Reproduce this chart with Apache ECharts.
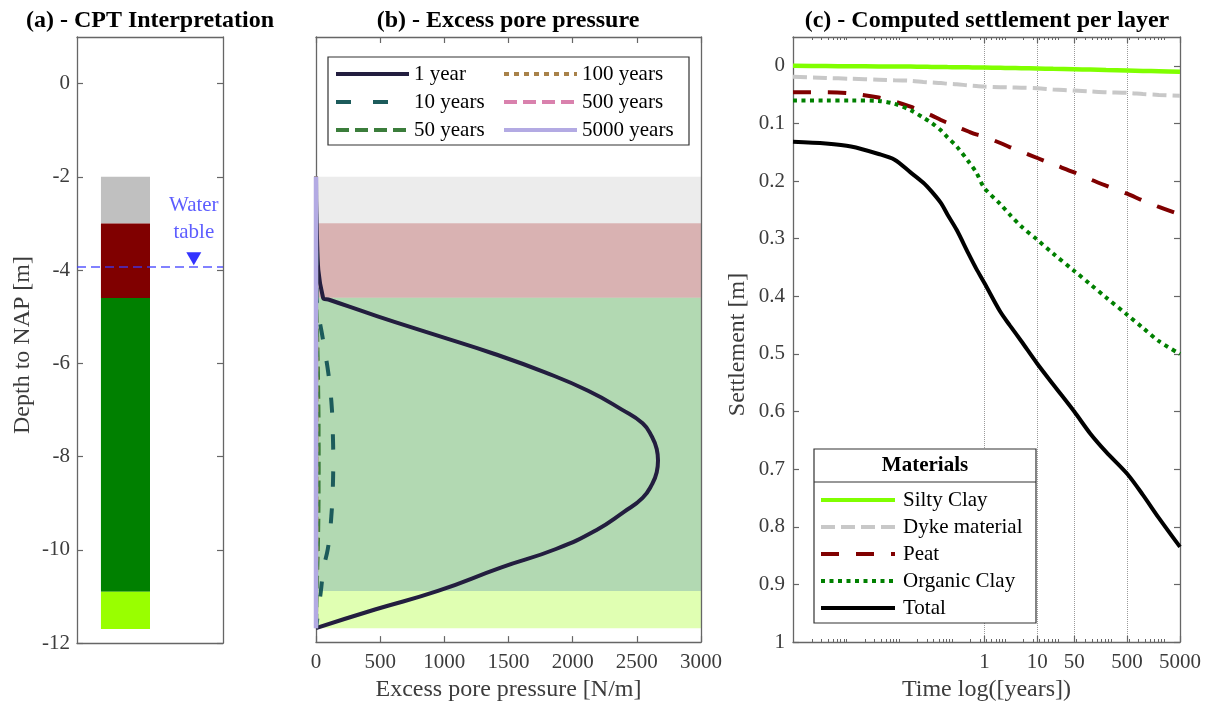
<!DOCTYPE html>
<html>
<head>
<meta charset="utf-8">
<script src="https://cdn.jsdelivr.net/npm/echarts@6/dist/echarts.min.js"></script>
<style>
  html, body { margin: 0; padding: 0; background: #fff; }
  #main { width: 1213px; height: 707px; }
</style>
</head>
<body>
<div id="main"></div>
<script>
// (a) CPT interpretation - soil layers (depth to NAP, m)
const layerNames = ['Dyke material', 'Peat', 'Organic Clay', 'Silty Clay'];
const layerTop = [-2, -3, -4.6, -10.9];
const layerBottom = [-3, -4.6, -10.9, -11.7];
const layerColors = ['#c0c0c0', '#800000', '#008000', '#99ff00'];
const waterTable = -3.93;
const depthTicks = [-12, -10, -8, -6, -4, -2, 0];

// (b) excess pore pressure profiles [N/m] against depth
const pDepth = [-2, -3, -4.6, -4.65, -5.0, -5.4, -5.8, -6.2, -6.6, -7.0, -7.3, -7.6, -7.85, -8.1, -8.35, -8.6, -8.9, -9.2, -9.6, -10.0, -10.4, -10.9, -11.3, -11.7];
const u1 = [0, 5, 55, 108, 480, 930, 1380, 1780, 2120, 2380, 2545, 2620, 2655, 2665, 2655, 2620, 2545, 2400, 2180, 1870, 1440, 950, 460, 0];
const u10 = [0, 1, 5, 6, 22, 48, 72, 95, 112, 124, 129, 132, 134, 135, 134, 132, 128, 122, 110, 92, 60, 38, 20, 0];
const u50 = [0, 0, 1, 1, 5, 9, 12, 15, 17, 19, 20, 20, 21, 21, 21, 20, 20, 19, 17, 14, 10, 6, 3, 0];
const u100 = [0, 0, 0, 0, 1, 2, 3, 3, 4, 4, 4, 4, 4, 4, 4, 4, 4, 4, 3, 3, 2, 1, 1, 0];
const u500 = [0, 0, 0, 0, 0, 0, 0, 0, 0, 0, 0, 0, 0, 0, 0, 0, 0, 0, 0, 0, 0, 0, 0, 0];
const u5000 = [0, 0, 0, 0, 0, 0, 0, 0, 0, 0, 0, 0, 0, 0, 0, 0, 0, 0, 0, 0, 0, 0, 0, 0];
const pressureNames = ['1 year', '10 years', '50 years', '100 years', '500 years', '5000 years'];
const pressureTicks = [0, 500, 1000, 1500, 2000, 2500, 3000];

// (c) settlement per layer [m] against time [years]
const timeYears = [0.00024, 0.001, 0.003, 0.01, 0.02, 0.04, 0.07, 0.1, 0.15, 0.2, 0.3, 0.5, 0.7, 1, 2, 3, 5, 10, 20, 50, 100, 200, 500, 1000, 2000, 5000];
const siltyClay = [0.000, 0.0004, 0.0007, 0.0010, 0.0012, 0.0014, 0.0017, 0.0019, 0.0020, 0.0022, 0.0024, 0.0027, 0.0029, 0.0030, 0.0035, 0.0038, 0.0042, 0.0047, 0.0053, 0.0060, 0.0066, 0.0073, 0.0081, 0.0088, 0.0095, 0.0105];
const dykeMaterial = [0.019, 0.021, 0.0225, 0.024, 0.025, 0.026, 0.028, 0.029, 0.030, 0.031, 0.032, 0.034, 0.035, 0.036, 0.037, 0.0375, 0.038, 0.039, 0.041, 0.043, 0.0445, 0.046, 0.047, 0.049, 0.0505, 0.052];
const peat = [0.046, 0.046, 0.048, 0.055, 0.062, 0.071, 0.080, 0.086, 0.094, 0.099, 0.106, 0.114, 0.119, 0.123, 0.134, 0.141, 0.149, 0.160, 0.171, 0.185, 0.197, 0.208, 0.222, 0.234, 0.245, 0.258];
const organicClay = [0.060, 0.060, 0.060, 0.061, 0.066, 0.077, 0.090, 0.099, 0.112, 0.124, 0.140, 0.166, 0.185, 0.212, 0.240, 0.258, 0.279, 0.302, 0.326, 0.356, 0.379, 0.402, 0.432, 0.455, 0.478, 0.500];
const total = [0.132, 0.135, 0.140, 0.153, 0.163, 0.185, 0.203, 0.218, 0.238, 0.258, 0.285, 0.326, 0.352, 0.377, 0.427, 0.450, 0.478, 0.517, 0.553, 0.600, 0.638, 0.670, 0.708, 0.745, 0.785, 0.835];
const timeTicks = [1, 10, 50, 500, 5000];
const settlementTicks = [0, 0.1, 0.2, 0.3, 0.4, 0.5, 0.6, 0.7, 0.8, 0.9, 1];

// time axis is laid out in days (minor ticks fall on day decades), labelled in years
const DAYS = 365;

const FONT = "'Liberation Serif', 'Times New Roman', serif";
const AXIS_GRAY = '#666666';
const LABEL_GRAY = '#3c3c3c';
const tickLabel = { fontFamily: FONT, fontSize: 21, color: LABEL_GRAY };
const nameStyle = { fontFamily: FONT, fontSize: 24, color: LABEL_GRAY };
// right padding nudges the rotated y names a few px down
const yNameStyle = { fontFamily: FONT, fontSize: 24, color: LABEL_GRAY, padding: [0, 10, 0, 0] };
const lineAxis = { show: true, onZero: false, lineStyle: { color: AXIS_GRAY, width: 1.3 } };
const noTick = { show: false };
const noLabel = { show: false };
const noSplit = { show: false };
const legendText = { fontFamily: FONT, fontSize: 21, lineHeight: 22, color: '#000' };

const chart = echarts.init(document.getElementById('main'));

const toPairs = (xs, ys) => xs.map((x, i) => [x, ys[i]]);
const timeDays = timeYears.map(t => t * DAYS);
const timeTickDays = timeTicks.map(t => t * DAYS);

function inTick(values) {
  const t = { show: true, inside: true, length: 6, lineStyle: { color: AXIS_GRAY, width: 1.2 } };
  if (values) t.customValues = values;
  return t;
}

function pressureSeries(name, values, color, type, width) {
  return {
    name: name, type: 'line', xAxisIndex: 2, yAxisIndex: 2,
    data: toPairs(values, pDepth), symbol: 'none', smooth: 0.5, clip: false, z: 10,
    lineStyle: { color: color, type: type, width: width }, itemStyle: { color: color }
  };
}

function settleSeries(name, values, color, type, width) {
  return {
    name: name, type: 'line', xAxisIndex: 4, yAxisIndex: 4,
    data: toPairs(timeDays, values), symbol: 'none', smooth: 0.3, z: 10,
    lineStyle: { color: color, type: type, width: width }, itemStyle: { color: color }
  };
}

const option = {
  animation: false,
  grid: [
    { left: 77, top: 37, width: 146, height: 606 },
    { left: 316, top: 37, width: 385, height: 606 },
    { left: 793, top: 37, width: 387, height: 605 }
  ],
  xAxis: [
    { gridIndex: 0, type: 'value', min: 0, max: 1, axisLine: lineAxis, axisTick: noTick, axisLabel: noLabel, splitLine: noSplit },
    { gridIndex: 0, type: 'value', position: 'top', min: 0, max: 1, axisLine: lineAxis, axisTick: noTick, axisLabel: noLabel, splitLine: noSplit },
    {
      gridIndex: 1, type: 'value', min: 0, max: 3000, z: 5,
      axisLine: lineAxis,
      axisTick: inTick(pressureTicks),
      axisLabel: Object.assign({ margin: 10, customValues: pressureTicks, formatter: v => String(v) }, tickLabel),
      splitLine: noSplit,
      name: 'Excess pore pressure [N/m]', nameLocation: 'middle', nameGap: 33, nameTextStyle: nameStyle
    },
    {
      gridIndex: 1, type: 'value', position: 'top', min: 0, max: 3000, z: 5,
      axisLine: lineAxis, axisTick: inTick(pressureTicks), axisLabel: noLabel, splitLine: noSplit
    },
    {
      gridIndex: 2, type: 'log', logBase: 10, min: timeYears[0] * DAYS, max: 5000 * DAYS, z: 5,
      axisLine: lineAxis,
      axisTick: inTick(timeTickDays),
      minorTick: { show: true, splitNumber: 9, length: 3, lineStyle: { color: AXIS_GRAY, width: 1 } },
      axisLabel: Object.assign({ margin: 10, customValues: timeTickDays, formatter: v => String(Math.round(v / DAYS)) }, tickLabel),
      splitLine: { show: true, lineStyle: { type: 'dotted', color: '#9a9a9a', width: 1 } },
      name: 'Time log([years])', nameLocation: 'middle', nameGap: 33, nameTextStyle: nameStyle
    },
    {
      gridIndex: 2, type: 'log', logBase: 10, position: 'top', min: timeYears[0] * DAYS, max: 5000 * DAYS, z: 5,
      axisLine: lineAxis,
      axisTick: inTick(timeTickDays),
      minorTick: { show: true, splitNumber: 9, length: 3, lineStyle: { color: AXIS_GRAY, width: 1 } },
      axisLabel: noLabel, splitLine: noSplit
    }
  ],
  yAxis: [
    {
      gridIndex: 0, type: 'value', min: -12, max: 1,
      axisLine: lineAxis, axisTick: inTick(depthTicks),
      axisLabel: Object.assign({ margin: 7, customValues: depthTicks }, tickLabel),
      splitLine: noSplit,
      name: 'Depth to NAP [m]', nameLocation: 'middle', nameGap: 42, nameTextStyle: yNameStyle
    },
    {
      gridIndex: 0, type: 'value', position: 'right', min: -12, max: 1,
      axisLine: lineAxis, axisTick: inTick(depthTicks), axisLabel: noLabel, splitLine: noSplit
    },
    { gridIndex: 1, type: 'value', min: -12, max: 1, z: 5, axisLine: lineAxis, axisTick: noTick, axisLabel: noLabel, splitLine: noSplit },
    { gridIndex: 1, type: 'value', position: 'right', min: -12, max: 1, z: 5, axisLine: lineAxis, axisTick: noTick, axisLabel: noLabel, splitLine: noSplit },
    {
      gridIndex: 2, type: 'value', inverse: true, min: -0.05, max: 1, z: 5,
      axisLine: lineAxis, axisTick: inTick(settlementTicks),
      axisLabel: Object.assign({ margin: 8, customValues: settlementTicks }, tickLabel),
      splitLine: noSplit,
      name: 'Settlement [m]', nameLocation: 'middle', nameGap: 43, nameTextStyle: yNameStyle
    },
    {
      gridIndex: 2, type: 'value', position: 'right', inverse: true, min: -0.05, max: 1, z: 5,
      axisLine: lineAxis, axisTick: inTick(settlementTicks), axisLabel: noLabel, splitLine: noSplit
    }
  ],
  legend: [
    {
      data: pressureNames.slice(0, 3), orient: 'vertical', left: 329, top: 58,
      itemWidth: 73, itemHeight: 14, itemGap: 6, z: 30,
      itemStyle: { opacity: 0 }, lineStyle: { width: 4 }, textStyle: legendText
    },
    {
      data: pressureNames.slice(3), orient: 'vertical', left: 497, top: 58,
      itemWidth: 73, itemHeight: 14, itemGap: 6, z: 30,
      itemStyle: { opacity: 0 }, lineStyle: { width: 4 }, textStyle: legendText
    },
    {
      data: ['Silty Clay', 'Dyke material', 'Peat', 'Organic Clay', 'Total'], orient: 'vertical', left: 814, top: 484,
      itemWidth: 74, itemHeight: 14, itemGap: 5, z: 30,
      itemStyle: { opacity: 0 }, lineStyle: { width: 4 },
      textStyle: Object.assign({ padding: [0, 0, 0, 3] }, legendText)
    }
  ],
  graphic: [
    { type: 'text', x: 150, y: 21, z: 30, style: { text: '(a) - CPT Interpretation', font: 'bold 24px ' + FONT, fill: '#000', align: 'center', verticalAlign: 'middle' } },
    { type: 'text', x: 508, y: 21, z: 30, style: { text: '(b) - Excess pore pressure', font: 'bold 24px ' + FONT, fill: '#000', align: 'center', verticalAlign: 'middle' } },
    { type: 'text', x: 987, y: 21, z: 30, style: { text: '(c) - Computed settlement per layer', font: 'bold 24px ' + FONT, fill: '#000', align: 'center', verticalAlign: 'middle' } },
    { type: 'rect', z: 20, shape: { x: 328, y: 57, width: 361, height: 88 }, style: { fill: '#fff', stroke: '#333', lineWidth: 1.2 } },
    { type: 'rect', z: 20, shape: { x: 814, y: 449, width: 222, height: 174 }, style: { fill: '#fff', stroke: '#333', lineWidth: 1.2 } },
    { type: 'line', z: 21, shape: { x1: 814, y1: 482, x2: 1036, y2: 482 }, style: { stroke: '#333', lineWidth: 1.2 } },
    { type: 'text', x: 925, y: 466, z: 30, style: { text: 'Materials', font: 'bold 21px ' + FONT, fill: '#000', align: 'center', verticalAlign: 'middle' } }
  ],
  series: [
    // (a) soil column
    {
      type: 'custom', name: 'layers', xAxisIndex: 0, yAxisIndex: 0,
      data: toPairs(layerTop, layerBottom),
      encode: { y: [0, 1] },
      renderItem: function (params, api) {
        const p0 = api.coord([0.164, api.value(0)]);
        const p1 = api.coord([0.5, api.value(1)]);
        return {
          type: 'rect',
          shape: { x: p0[0], y: p0[1], width: p1[0] - p0[0], height: p1[1] - p0[1] },
          style: { fill: layerColors[params.dataIndex] }
        };
      }
    },
    {
      type: 'scatter', name: 'Water table', xAxisIndex: 0, yAxisIndex: 0, z: 10,
      data: [[0.8, waterTable]],
      symbol: 'triangle', symbolRotate: 180, symbolSize: [15, 13], symbolOffset: [0, -8],
      itemStyle: { color: '#0000ff' },
      label: {
        show: true, position: 'top', distance: 6, formatter: 'Water\ntable',
        fontFamily: FONT, fontSize: 21, lineHeight: 27, color: '#3535ff'
      },
      markLine: {
        silent: true, symbol: 'none', label: { show: false },
        lineStyle: { color: '#3b3bff', type: [9, 5], width: 1.5, opacity: 0.85 },
        data: [{ yAxis: waterTable }]
      }
    },
    // (b) layer bands
    {
      type: 'custom', name: 'bands', xAxisIndex: 2, yAxisIndex: 2, z: 1,
      data: toPairs(layerTop, layerBottom),
      encode: { y: [0, 1] },
      renderItem: function (params, api) {
        const y0 = api.coord([0, api.value(0)])[1];
        const y1 = api.coord([0, api.value(1)])[1];
        return {
          type: 'rect',
          shape: { x: params.coordSys.x, y: y0, width: params.coordSys.width, height: y1 - y0 },
          style: { fill: layerColors[params.dataIndex], opacity: 0.3 }
        };
      }
    },
    pressureSeries('1 year', u1, '#231e3f', 'solid', 4),
    pressureSeries('10 years', u10, '#1c5b5b', [15, 22], 4),
    pressureSeries('50 years', u50, '#3b7d3b', [13, 6], 4),
    pressureSeries('100 years', u100, '#a8824a', [5, 5], 4),
    pressureSeries('500 years', u500, '#d981ad', [13, 6], 4),
    pressureSeries('5000 years', u5000, '#b3aae3', 'solid', 4.5),
    // (c) settlement curves
    settleSeries('Silty Clay', siltyClay, '#80ff00', 'solid', 4.5),
    settleSeries('Dyke material', dykeMaterial, '#c8c8c8', [14, 6], 4),
    settleSeries('Peat', peat, '#800000', [18, 17], 4),
    settleSeries('Organic Clay', organicClay, '#008000', [4, 4.5], 4),
    settleSeries('Total', total, '#000000', 'solid', 4)
  ]
};

chart.setOption(option);
</script>
</body>
</html>
